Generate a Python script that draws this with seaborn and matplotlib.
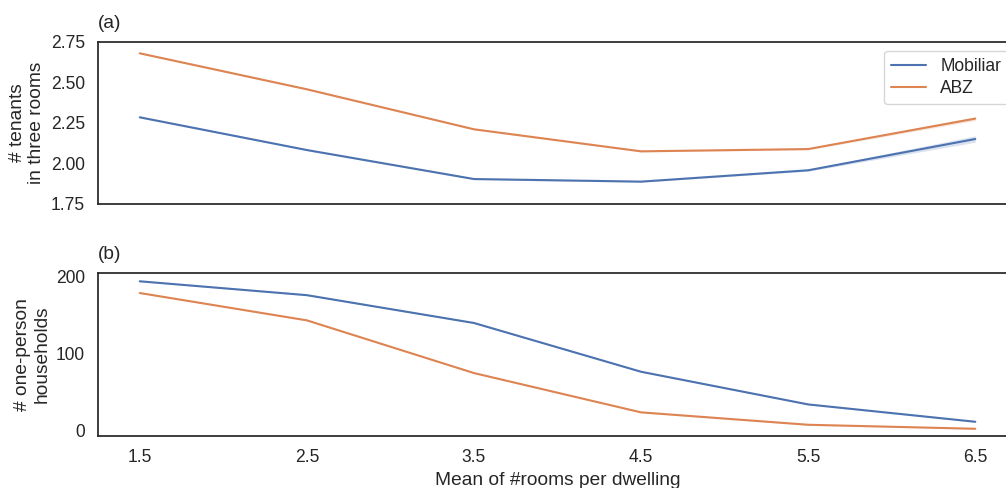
import numpy as np
import pandas as pd
import matplotlib
matplotlib.use("Agg")
import matplotlib.pyplot as plt
import seaborn as sns

rooms = [1.5, 2.5, 3.5, 4.5, 5.5, 6.5]
companies = ["Mobiliar", "ABZ"]

tenants_mobiliar = [2.285, 2.083, 1.904, 1.888, 1.958, 2.151]
tenants_abz = [2.680, 2.458, 2.211, 2.075, 2.089, 2.277]
tenants_ci_mobiliar = [0.004, 0.004, 0.004, 0.004, 0.006, 0.020]
tenants_ci_abz = [0.004, 0.004, 0.004, 0.004, 0.005, 0.012]

single_mobiliar = [194.0, 176.0, 139.9, 76.6, 34.2, 11.7]
single_abz = [178.8, 143.3, 74.9, 23.9, 7.8, 2.6]
single_ci_mobiliar = [0.6, 0.6, 0.6, 0.6, 0.6, 0.6]
single_ci_abz = [0.5, 0.5, 0.5, 0.5, 0.8, 0.5]

sns.set_theme(style="white", context="notebook", font_scale=1.15)
plt.rcParams["font.family"] = ["Liberation Sans", "DejaVu Sans"]

df = pd.DataFrame({
    "rooms": rooms * 2,
    "tenants": tenants_mobiliar + tenants_abz,
    "single": single_mobiliar + single_abz,
    "company": [companies[0]] * len(rooms) + [companies[1]] * len(rooms),
})

fig = plt.figure(figsize=(10.06, 4.88), dpi=100)
ax1 = fig.add_axes([0.0974, 0.582, 1.011 - 0.0974, 0.914 - 0.582])
ax2 = fig.add_axes([0.0974, 0.107, 1.011 - 0.0974, 0.440 - 0.107], sharex=ax1)

palette = sns.color_palette("deep", 2)

sns.lineplot(data=df, x="rooms", y="tenants", hue="company", hue_order=companies,
             palette=palette, errorbar=None, ax=ax1)
sns.lineplot(data=df, x="rooms", y="single", hue="company", hue_order=companies,
             palette=palette, errorbar=None, ax=ax2, legend=False)

for vals, ci, col in [(tenants_mobiliar, tenants_ci_mobiliar, palette[0]),
                      (tenants_abz, tenants_ci_abz, palette[1])]:
    v = np.array(vals); c = np.array(ci)
    ax1.fill_between(rooms, v - c, v + c, color=col, alpha=0.2, linewidth=0)
for vals, ci, col in [(single_mobiliar, single_ci_mobiliar, palette[0]),
                      (single_abz, single_ci_abz, palette[1])]:
    v = np.array(vals); c = np.array(ci)
    ax2.fill_between(rooms, v - c, v + c, color=col, alpha=0.2, linewidth=0)

ax1.set_xlim(1.25, 6.75)
ax1.set_ylim(1.75, 2.75)
ax1.set_yticks([1.75, 2.00, 2.25, 2.50, 2.75])
ax1.set_yticklabels(["1.75", "2.00", "2.25", "2.50", "2.75"])
ax1.set_xlabel("")
ax1.set_ylabel("# tenants\nin three rooms")
ax1.tick_params(axis="x", labelbottom=False)
ax1.set_title("(a)", loc="left", pad=10)
leg = ax1.legend(loc="upper right", title=None, labelspacing=0.3)

ax2.set_ylim(-6.5, 204.4)
ax2.set_yticks([0, 100, 200])
ax2.set_xticks(rooms)
ax2.set_xticklabels([str(r) for r in rooms])
ax2.set_xlabel("Mean of #rooms per dwelling")
ax2.set_ylabel("# one-person\nhouseholds")
ax2.set_title("(b)", loc="left", pad=10)

fig.savefig("out.png", dpi=100)
